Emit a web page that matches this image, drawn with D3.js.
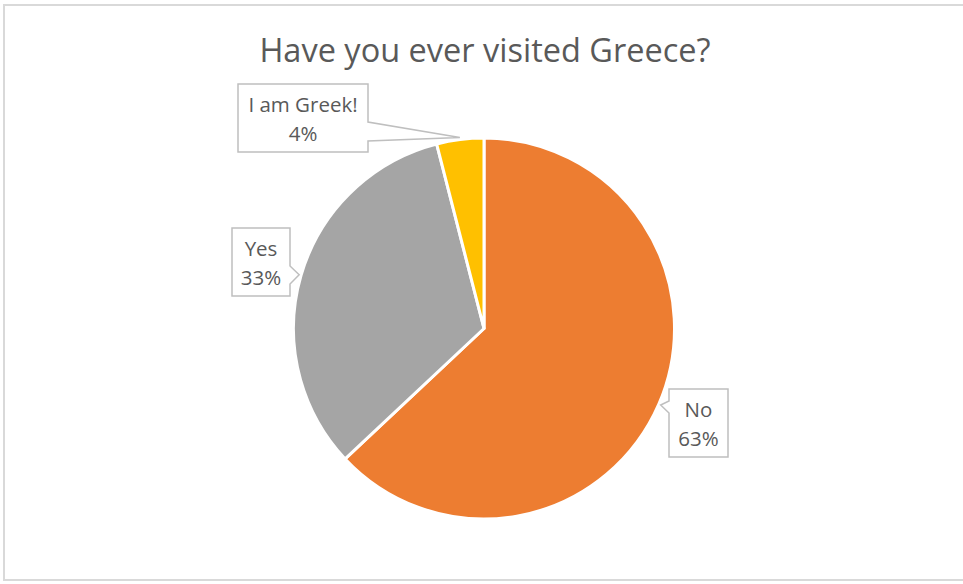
<!DOCTYPE html>
<html>
<head>
<meta charset="utf-8">
<script src="https://cdn.jsdelivr.net/npm/d3@7"></script>
<style>
  html, body { margin: 0; padding: 0; background: #fff; }
  svg { display: block; }
</style>
</head>
<body>
<svg id="chart" width="963" height="584"></svg>
<script>
const categories = ["No", "Yes", "I am Greek!"];
const values = [63, 33, 4];
const colors = ["#ED7D31", "#A5A5A5", "#FFC000"];
const title = "Have you ever visited Greece?";

// layout for callout boxes (box x, y, w, h) and pointer side
const callouts = [
  { box: [669, 389, 59, 68], side: "left", notch: [401, 413] },
  { box: [232, 228, 58, 68], side: "right", notch: [266, 284] },
  { box: [238, 84, 130, 68], side: "right", notch: [122, 141] }
];

const svg = d3.select("#chart");
const W = 963, H = 584;
const font = "'Open Sans', 'Noto Sans', sans-serif";
const textColor = "#595959";

// outer border
svg.append("rect")
  .attr("x", 4).attr("y", 5).attr("width", W + 10).attr("height", 575)
  .attr("fill", "#fff").attr("stroke", "#D9D9D9").attr("stroke-width", 2);

svg.append("text")
  .attr("x", 485).attr("y", 62)
  .attr("text-anchor", "middle")
  .attr("font-family", font).attr("font-size", 32.5)
  .attr("fill", textColor)
  .text(title);

const cx = 484, cy = 328.5, r = 190.5;
const pie = d3.pie().sort(null).value(d => d)(values);
const arc = d3.arc().innerRadius(0).outerRadius(r);

const g = svg.append("g").attr("transform", `translate(${cx},${cy})`);
g.selectAll("path.slice").data(pie).join("path")
  .attr("class", "slice")
  .attr("d", arc)
  .attr("fill", (d, i) => colors[i])
  .attr("stroke", "#fff").attr("stroke-width", 3).attr("stroke-linejoin", "round");

// callout labels
const pct = d3.format(".0%");
const total = d3.sum(values);
pie.forEach((d, i) => {
  const c = callouts[i];
  const [bx, by, bw, bh] = c.box;
  const mid = (d.startAngle + d.endAngle) / 2;
  const tipR = r + 2;
  const tx = cx + tipR * Math.sin(mid), ty = cy - tipR * Math.cos(mid);
  let pts;
  if (c.side === "right") {
    pts = [[bx, by], [bx + bw, by], [bx + bw, c.notch[0]], [tx, ty], [bx + bw, c.notch[1]], [bx + bw, by + bh], [bx, by + bh]];
  } else {
    pts = [[bx, by], [bx + bw, by], [bx + bw, by + bh], [bx, by + bh], [bx, c.notch[1]], [tx, ty], [bx, c.notch[0]]];
  }
  svg.append("path")
    .attr("d", d3.line()(pts) + "Z")
    .attr("fill", "#fff").attr("stroke", "#BFBFBF").attr("stroke-width", 1.5);
  const t = svg.append("text")
    .attr("text-anchor", "middle")
    .attr("font-family", font).attr("font-size", 20.5)
    .attr("fill", textColor);
  t.append("tspan").attr("x", bx + bw / 2).attr("y", by + 28).text(categories[i]);
  t.append("tspan").attr("x", bx + bw / 2).attr("y", by + 57).text(pct(values[i] / total));
});
</script>
</body>
</html>
